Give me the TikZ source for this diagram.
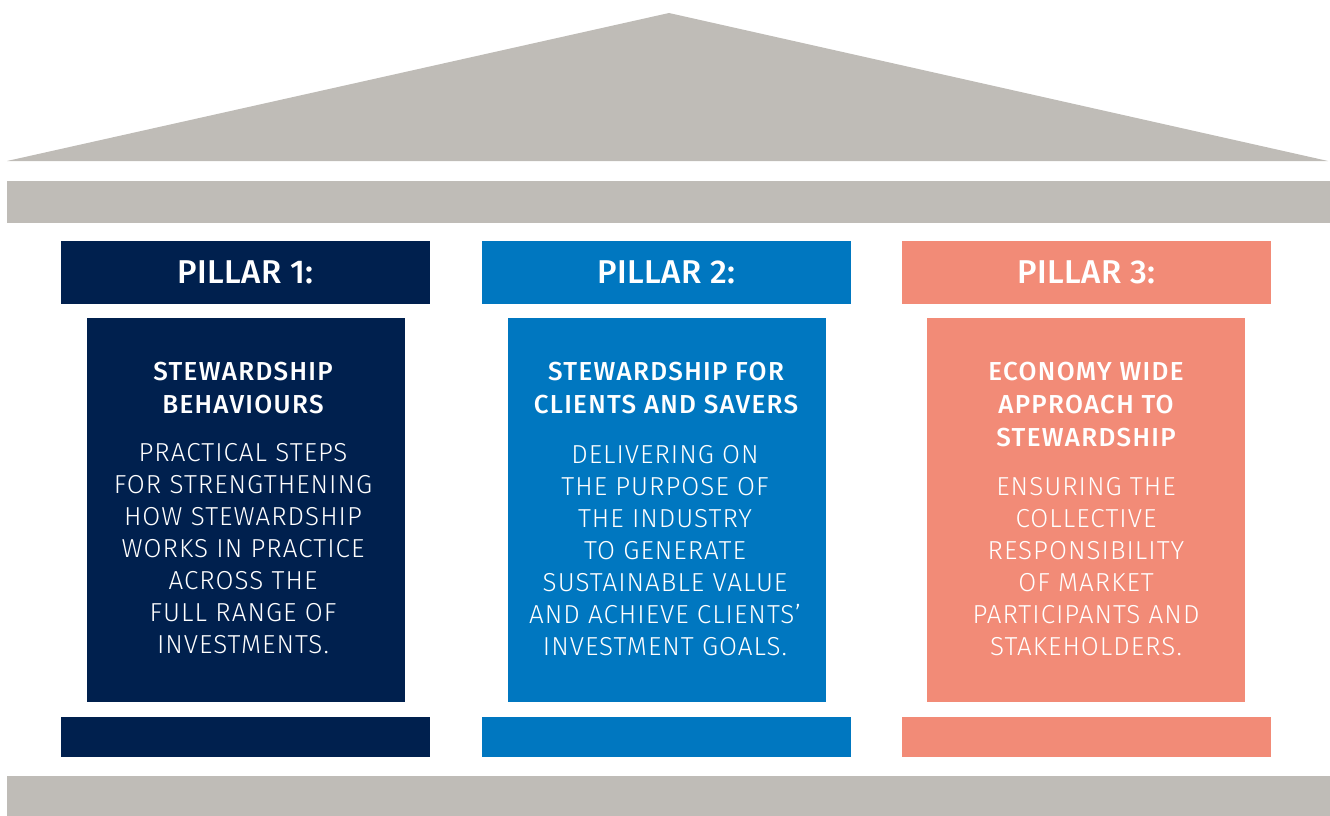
\documentclass[tikz,border=0pt]{standalone}
\usepackage{fontspec}
\setmainfont{Fira Sans}
\newfontfamily\headfont[LetterSpace=1]{Fira Sans Medium}
\newfontfamily\titlefont[LetterSpace=5]{Fira Sans Medium}
\newfontfamily\bodyfont[LetterSpace=4]{Fira Sans Light}
\definecolor{roofgray}{HTML}{BFBCB7}
\definecolor{navy}{HTML}{00204E}
\definecolor{pblue}{HTML}{0077C0}
\definecolor{salmon}{HTML}{F28B77}
\tikzset{
  block/.style={anchor=north west,inner sep=0pt,outer sep=0pt},
  headtxt/.style={text=white,font=\headfont\fontsize{33}{33}\selectfont},
  titletxt/.style={text=white,anchor=north,inner sep=0pt,align=center,font=\titlefont\fontsize{26}{33}\selectfont},
  bodytxt/.style={text=white,anchor=north,inner sep=0pt,align=center,font=\bodyfont\fontsize{26}{32}\selectfont}
}
\begin{document}
\begin{tikzpicture}[x=1pt,y=-1pt]
\useasboundingbox (0,0) rectangle (1330,816);
% roof and bands
\fill[roofgray] (7,161) -- (669,13) -- (1328,161) -- cycle;
\fill[roofgray] (7,181) rectangle (1330,223);
\fill[roofgray] (7,776) rectangle (1330,816);
% pillar 1
\node[block,fill=navy,minimum width=369pt,minimum height=63pt] (h1) at (61,241) {};
\node[headtxt] (h1t) at (h1.center) {PILLAR 1:};
\node[block,fill=navy,minimum width=318pt,minimum height=384pt] (b1) at (87,318) {};
\node[block,fill=navy,minimum width=369pt,minimum height=40pt] (f1) at (61,717) {};
\node[titletxt] (t1) at (243,362) {STEWARDSHIP\\BEHAVIOURS};
\node[bodytxt] (d1) at (243,443) {PRACTICAL STEPS\\FOR STRENGTHENING\\HOW STEWARDSHIP\\WORKS IN PRACTICE\\ACROSS THE\\FULL RANGE OF\\INVESTMENTS.};
% pillar 2
\node[block,fill=pblue,minimum width=369pt,minimum height=63pt] (h2) at (482,241) {};
\node[headtxt] (h2t) at (h2.center) {PILLAR 2:};
\node[block,fill=pblue,minimum width=318pt,minimum height=384pt] (b2) at (508,318) {};
\node[block,fill=pblue,minimum width=369pt,minimum height=40pt] (f2) at (482,717) {};
\node[titletxt] (t2) at (666,362) {STEWARDSHIP FOR\\CLIENTS AND SAVERS};
\node[bodytxt] (d2) at (665,445) {DELIVERING ON\\THE PURPOSE OF\\THE INDUSTRY\\TO GENERATE\\SUSTAINABLE VALUE\\AND ACHIEVE CLIENTS’\\INVESTMENT GOALS.};
% pillar 3
\node[block,fill=salmon,minimum width=369pt,minimum height=63pt] (h3) at (902,241) {};
\node[headtxt] (h3t) at (h3.center) {PILLAR 3:};
\node[block,fill=salmon,minimum width=318pt,minimum height=384pt] (b3) at (927,318) {};
\node[block,fill=salmon,minimum width=369pt,minimum height=40pt] (f3) at (902,717) {};
\node[titletxt] (t3) at (1086,362) {ECONOMY WIDE\\APPROACH TO\\STEWARDSHIP};
\node[bodytxt] (d3) at (1086,477) {ENSURING THE\\COLLECTIVE\\RESPONSIBILITY\\OF MARKET\\PARTICIPANTS AND\\STAKEHOLDERS.};
\end{tikzpicture}
\end{document}
